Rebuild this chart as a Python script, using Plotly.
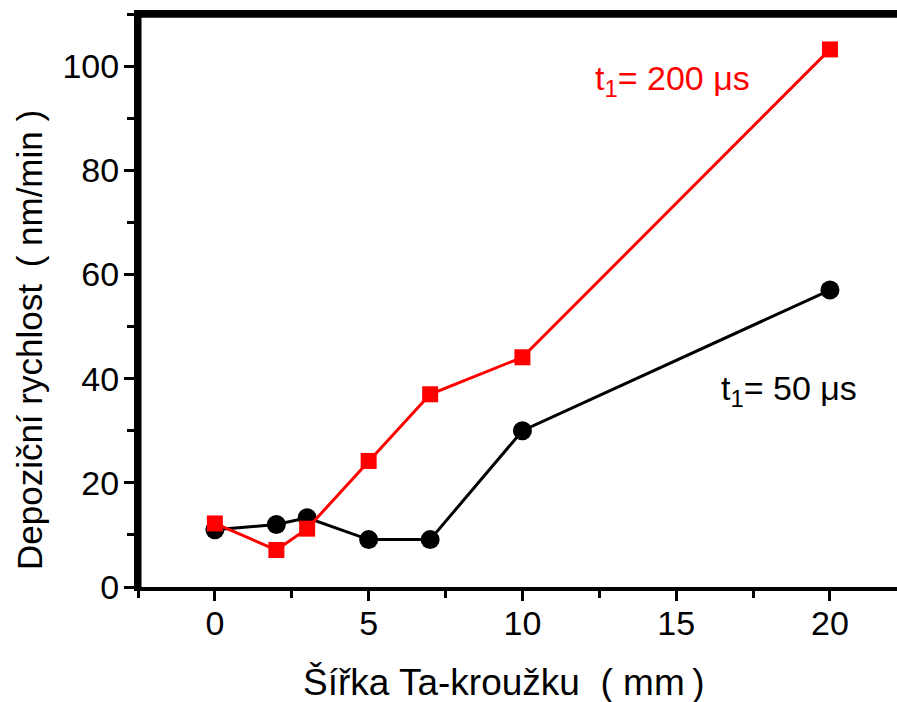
import plotly.graph_objects as go

# Ring width (mm) and deposition rates (nm/min) for two pulse lengths
width_mm = [0, 2, 3, 5, 7, 10, 20]
rate_50us = [11, 12, 13.3, 9.1, 9.1, 30, 57]
rate_200us = [12.2, 7.1, 11.2, 24.2, 37, 44.1, 103.2]

FONT = "Liberation Sans, Arial, sans-serif"
TICK_FS = 34
NOTE_FS = 34

fig = go.Figure()
fig.add_trace(go.Scatter(
    x=width_mm, y=rate_50us, mode="lines+markers",
    line=dict(color="black", width=3),
    marker=dict(symbol="circle", size=19, color="black"),
    showlegend=False, cliponaxis=False,
))
fig.add_trace(go.Scatter(
    x=width_mm, y=rate_200us, mode="lines+markers",
    line=dict(color="#ff0000", width=3),
    marker=dict(symbol="square", size=16, color="#ff0000"),
    showlegend=False, cliponaxis=False,
))

xr = [-2.5, 22.18]
yr = [0, 110]

fig.update_layout(
    width=897, height=702,
    margin=dict(l=138, r=0, t=14, b=115),
    paper_bgcolor="white", plot_bgcolor="white",
    font=dict(family=FONT, size=TICK_FS, color="black"),
    xaxis=dict(
        range=xr, tick0=0, dtick=5, showgrid=False, zeroline=False,
        showline=True, linecolor="black", linewidth=4, mirror=True,
        ticks="outside", ticklen=10, tickwidth=3, tickcolor="black",
        minor=dict(dtick=2.5, tick0=0, ticks="outside", ticklen=7, tickwidth=3, tickcolor="black", showgrid=False),
        tickfont=dict(size=TICK_FS), ticklabelstandoff=-7,
    ),
    yaxis=dict(
        range=yr, tick0=0, dtick=20, showgrid=False, zeroline=False,
        showline=True, linecolor="black", linewidth=4,
        ticks="outside", ticklen=10, tickwidth=3, tickcolor="black",
        minor=dict(dtick=10, tick0=0, ticks="outside", ticklen=7, tickwidth=3, tickcolor="black", showgrid=False),
        tickfont=dict(size=TICK_FS), ticklabelstandoff=-2,
    ),
)

# frame lines along the left and top edges of the plotting area
fig.add_shape(type="line", xref="paper", yref="paper", x0=0.002, x1=0.002, y0=0, y1=1,
              line=dict(color="black", width=4), layer="above")
fig.add_shape(type="line", xref="paper", yref="paper", x0=0, x1=1, y0=0.997, y1=0.997,
              line=dict(color="black", width=4), layer="above")

# axis titles
fig.add_annotation(
    x=0.4822, y=-0.1675, xref="paper", yref="paper", xanchor="center", yanchor="middle",
    text="Šířka Ta-kroužku\u00a0\u00a0(\u00a0mm\u2009)", showarrow=False,
    font=dict(family=FONT, size=37, color="black"),
)
fig.add_annotation(
    x=-0.1436, y=0.431, xref="paper", yref="paper", xanchor="center", yanchor="middle",
    text="Depoziční rychlost\u00a0\u2009(\u00a0nm/min\u00a0)", showarrow=False, textangle=-90,
    font=dict(family=FONT, size=35, color="black"),
)

# series labels
fig.add_annotation(
    x=12.3, y=97.3, xref="x", yref="y", xanchor="left", yanchor="middle",
    text="t<sub>1</sub>= 200 μs", showarrow=False,
    font=dict(family=FONT, size=NOTE_FS, color="#ff0000"),
)
fig.add_annotation(
    x=16.4, y=37.8, xref="x", yref="y", xanchor="left", yanchor="middle",
    text="t<sub>1</sub>= 50 μs", showarrow=False,
    font=dict(family=FONT, size=NOTE_FS, color="black"),
)

fig.write_html("out.html")
